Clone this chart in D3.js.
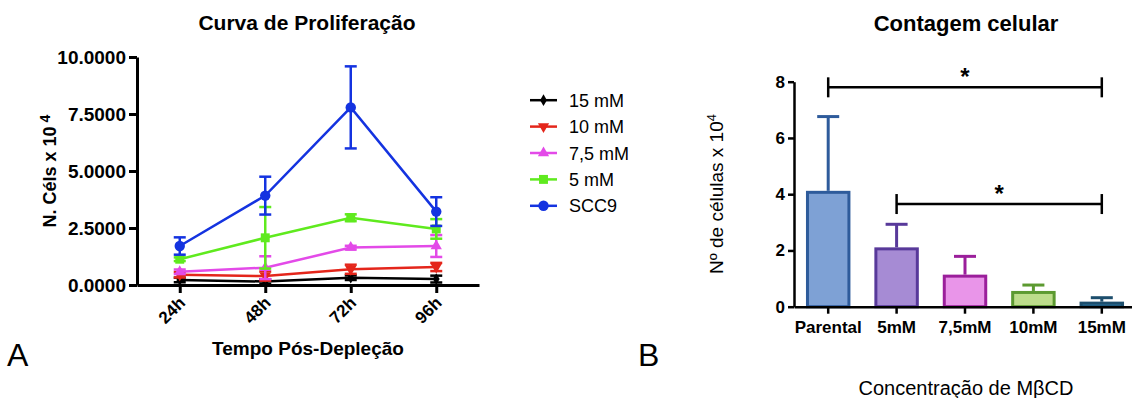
<!DOCTYPE html>
<html>
<head>
<meta charset="utf-8">
<script src="https://cdn.jsdelivr.net/npm/d3@7"></script>
<style>
  body { margin: 0; background: #fff; }
  text { font-family: "Liberation Sans", Arial, sans-serif; }
</style>
</head>
<body>
<div id="chart"></div>
<script>
// ---- panel A data (proliferation curve) ----
var timePoints = ["24h", "48h", "72h", "96h"];
var seriesNames = ["15 mM", "10 mM", "7,5 mM", "5 mM", "SCC9"];
var mean15 = [0.22, 0.15, 0.32, 0.26];
var err15 = [0.10, 0.10, 0.10, 0.15];
var mean10 = [0.45, 0.39, 0.69, 0.79];
var err10 = [0.12, 0.20, 0.20, 0.18];
var mean75 = [0.58, 0.76, 1.64, 1.71];
var err75 = [0.10, 0.50, 0.08, 0.48];
var mean5 = [1.13, 2.07, 2.95, 2.46];
var err5 = [0.08, 1.35, 0.15, 0.43];
var meanScc9 = [1.71, 3.92, 7.79, 3.22];
var errScc9 = [0.38, 0.83, 1.80, 0.63];
var yTicksA = [0, 2.5, 5, 7.5, 10];

// ---- panel B data (cell count) ----
var concCats = ["Parental", "5mM", "7,5mM", "10mM", "15mM"];
var cellMeans = [4.12, 2.11, 1.14, 0.56, 0.18];
var cellErr = [2.64, 0.82, 0.65, 0.21, 0.14];
var yTicksB = [0, 2, 4, 6, 8];
var sigFrom = ["Parental", "5mM"];
var sigTo = ["15mM", "15mM"];
var sigLevel = [7.8, 3.65];

var svg = d3.select("#chart").append("svg")
    .attr("width", 1132)
    .attr("height", 398);

// ================= Panel A =================
var seriesColors = ["#000000", "#e4261b", "#e34ae8", "#5fea1e", "#1433e0"];
var seriesSymbols = [d3.symbolDiamond, d3.symbolTriangle, d3.symbolTriangle, d3.symbolSquare, d3.symbolCircle];
var symbolRot = [0, 180, 0, 0, 0];
var symbolSize = [40, 55, 55, 80, 85];
var seriesMeans = [mean15, mean10, mean75, mean5, meanScc9];
var seriesErr = [err15, err10, err75, err5, errScc9];

var xA = d3.scalePoint().domain(timePoints).range([137, 479]).padding(0.5);
var yA = d3.scaleLinear().domain([0, 10]).range([285, 57]);

var gA = svg.append("g");

gA.append("text")
    .attr("x", 307).attr("y", 30)
    .attr("text-anchor", "middle")
    .attr("font-size", "21px").attr("font-weight", "bold")
    .text("Curva de Proliferação");

var yAxisA = gA.append("g")
    .attr("transform", "translate(137,0)")
    .call(d3.axisLeft(yA).tickValues(yTicksA).tickFormat(d3.format(".4f")).tickSize(8).tickSizeOuter(0));
yAxisA.selectAll("path, line").attr("stroke", "#000").attr("stroke-width", 3);
yAxisA.selectAll("text").attr("font-size", "19px").attr("font-weight", "bold").attr("fill", "#000").attr("x", -11);

var xAxisA = gA.append("g")
    .attr("transform", "translate(0,285)")
    .call(d3.axisBottom(xA).tickSize(8).tickSizeOuter(0));
xAxisA.selectAll("path, line").attr("stroke", "#000").attr("stroke-width", 3);
xAxisA.selectAll("text")
    .attr("font-size", "17px").attr("font-weight", "bold").attr("fill", "#000")
    .attr("text-anchor", "end")
    .attr("x", 0).attr("y", 0).attr("dy", 0)
    .attr("transform", "translate(6,19) rotate(-45)");

gA.append("text")
    .attr("transform", "translate(56,171) rotate(-90)")
    .attr("text-anchor", "middle")
    .attr("font-size", "18px").attr("font-weight", "bold")
    .text("N. Céls x 10")
    .append("tspan").attr("dx", 4).attr("dy", -6).attr("font-size", "14px").text("4");

gA.append("text")
    .attr("x", 308).attr("y", 355)
    .attr("text-anchor", "middle")
    .attr("font-size", "19px").attr("font-weight", "bold")
    .text("Tempo Pós-Depleção");

gA.append("text")
    .attr("x", 7).attr("y", 366)
    .attr("font-size", "32px")
    .text("A");

var line = d3.line().x(function (d, i) { return xA(timePoints[i]); }).y(function (d) { return yA(d); });

seriesMeans.forEach(function (means, s) {
    var col = seriesColors[s];
    var sg = gA.append("g");
    sg.append("path")
        .datum(means)
        .attr("d", line)
        .attr("fill", "none")
        .attr("stroke", col)
        .attr("stroke-width", 2.5);
    var eb = sg.selectAll(".eb").data(means).enter().append("g");
    eb.append("line")
        .attr("x1", function (d, i) { return xA(timePoints[i]); })
        .attr("x2", function (d, i) { return xA(timePoints[i]); })
        .attr("y1", function (d, i) { return yA(d + seriesErr[s][i]); })
        .attr("y2", function (d, i) { return yA(Math.max(0, d - seriesErr[s][i])); })
        .attr("stroke", col).attr("stroke-width", 2.5);
    [1, -1].forEach(function (sign) {
        eb.append("line")
            .attr("x1", function (d, i) { return xA(timePoints[i]) - 6; })
            .attr("x2", function (d, i) { return xA(timePoints[i]) + 6; })
            .attr("y1", function (d, i) { return yA(Math.max(0, d + sign * seriesErr[s][i])); })
            .attr("y2", function (d, i) { return yA(Math.max(0, d + sign * seriesErr[s][i])); })
            .attr("stroke", col).attr("stroke-width", 2.5);
    });
    sg.selectAll(".pt").data(means).enter().append("path")
        .attr("d", d3.symbol().type(seriesSymbols[s]).size(symbolSize[s]))
        .attr("transform", function (d, i) {
            return "translate(" + xA(timePoints[i]) + "," + yA(d) + ") rotate(" + symbolRot[s] + ")";
        })
        .attr("fill", col);
});

// legend
var legendOrder = d3.scaleBand().domain(seriesNames).range([87, 219]);
var leg = gA.selectAll(".leg").data(seriesNames).enter().append("g")
    .attr("transform", function (d) { return "translate(530," + (legendOrder(d) + legendOrder.bandwidth() / 2) + ")"; });
leg.append("line").attr("x1", 0).attr("x2", 27).attr("y1", 0).attr("y2", 0)
    .attr("stroke", function (d, i) { return seriesColors[i]; }).attr("stroke-width", 2.5);
leg.append("path")
    .attr("d", function (d, i) { return d3.symbol().type(seriesSymbols[i]).size(symbolSize[i])(); })
    .attr("transform", function (d, i) { return "translate(13.5,0) rotate(" + symbolRot[i] + ")"; })
    .attr("fill", function (d, i) { return seriesColors[i]; });
leg.append("text").attr("x", 39).attr("y", 6.5)
    .attr("font-size", "18px")
    .text(function (d) { return d; });

// ================= Panel B =================
var barFill = ["#7ea1d5", "#a68bd4", "#e995e9", "#bddd8b", "#2b84b4"];
var barStroke = ["#2e5b9b", "#58399a", "#9b1f9b", "#5c9a30", "#1d4e6d"];

var xB = d3.scaleBand().domain(concCats).range([794, 1136]).paddingInner(0.35).paddingOuter(0.175);
var yB = d3.scaleLinear().domain([0, 8]).range([306.7, 81.7]);

var gB = svg.append("g");

gB.append("text")
    .attr("x", 966).attr("y", 31)
    .attr("text-anchor", "middle")
    .attr("font-size", "22px").attr("font-weight", "bold")
    .text("Contagem celular");

// error bars (upward only)
var ebB = gB.selectAll(".ebB").data(cellMeans).enter().append("g");
ebB.append("line")
    .attr("x1", function (d, i) { return xB(concCats[i]) + xB.bandwidth() / 2; })
    .attr("x2", function (d, i) { return xB(concCats[i]) + xB.bandwidth() / 2; })
    .attr("y1", function (d) { return yB(d); })
    .attr("y2", function (d, i) { return yB(d + cellErr[i]); })
    .attr("stroke", function (d, i) { return barStroke[i]; }).attr("stroke-width", 3);
ebB.append("line")
    .attr("x1", function (d, i) { return xB(concCats[i]) + xB.bandwidth() / 2 - 11; })
    .attr("x2", function (d, i) { return xB(concCats[i]) + xB.bandwidth() / 2 + 11; })
    .attr("y1", function (d, i) { return yB(d + cellErr[i]); })
    .attr("y2", function (d, i) { return yB(d + cellErr[i]); })
    .attr("stroke", function (d, i) { return barStroke[i]; }).attr("stroke-width", 3);

gB.selectAll(".bar").data(cellMeans).enter().append("rect")
    .attr("x", function (d, i) { return xB(concCats[i]) + 1.5; })
    .attr("width", xB.bandwidth() - 3)
    .attr("y", function (d) { return yB(d) + 1.5; })
    .attr("height", function (d) { return yB(0) - yB(d) - 1.5; })
    .attr("fill", function (d, i) { return barFill[i]; })
    .attr("stroke", function (d, i) { return barStroke[i]; })
    .attr("stroke-width", 3);

var yAxisB = gB.append("g")
    .attr("transform", "translate(794,0)")
    .call(d3.axisLeft(yB).tickValues(yTicksB).tickSize(6).tickSizeOuter(0));
yAxisB.selectAll("path, line").attr("stroke", "#000").attr("stroke-width", 2.5);
yAxisB.selectAll("text").attr("font-size", "17px").attr("font-weight", "bold").attr("fill", "#000").attr("x", -9);

var xAxisB = gB.append("g")
    .attr("transform", "translate(0,306.7)")
    .call(d3.axisBottom(xB).tickSize(7).tickSizeOuter(0));
xAxisB.selectAll("path, line").attr("stroke", "#000").attr("stroke-width", 2.5);
xAxisB.selectAll("text").attr("font-size", "17px").attr("font-weight", "bold").attr("fill", "#000").attr("y", 14);

// significance brackets
sigFrom.forEach(function (f, k) {
    var x1 = xB(f) + xB.bandwidth() / 2;
    var x2 = xB(sigTo[k]) + xB.bandwidth() / 2;
    var y = yB(sigLevel[k]);
    var bg = gB.append("g").attr("stroke", "#000").attr("stroke-width", 2.5);
    bg.append("line").attr("x1", x1).attr("x2", x2).attr("y1", y).attr("y2", y);
    bg.append("line").attr("x1", x1).attr("x2", x1).attr("y1", y - 10).attr("y2", y + 10);
    bg.append("line").attr("x1", x2).attr("x2", x2).attr("y1", y - 10).attr("y2", y + 10);
    gB.append("text")
        .attr("x", (x1 + x2) / 2).attr("y", y - 2)
        .attr("text-anchor", "middle")
        .attr("font-size", "24px").attr("font-weight", "bold")
        .text("*");
});

gB.append("text")
    .attr("transform", "translate(723,194) rotate(-90)")
    .attr("text-anchor", "middle")
    .attr("font-size", "19px")
    .text("Nº de células x 10")
    .append("tspan").attr("dy", -7).attr("font-size", "13px").text("4");

gB.append("text")
    .attr("x", 966).attr("y", 395)
    .attr("text-anchor", "middle")
    .attr("font-size", "20px")
    .text("Concentração de MβCD");

gB.append("text")
    .attr("x", 638).attr("y", 366)
    .attr("font-size", "32px")
    .text("B");
</script>
</body>
</html>
